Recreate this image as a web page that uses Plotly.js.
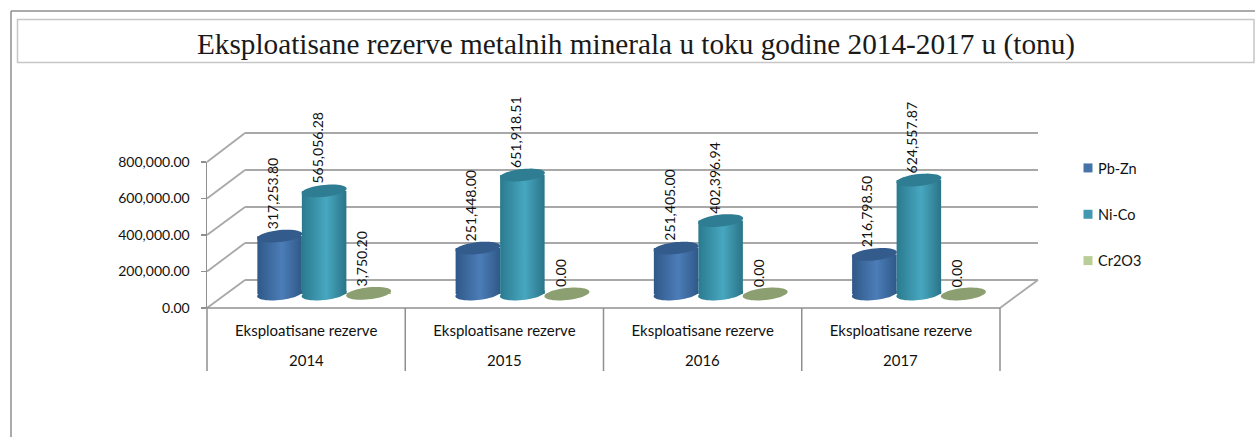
<!DOCTYPE html>
<html><head><meta charset="utf-8">
<script src="https://cdn.plot.ly/plotly-3.0.1.min.js"></script>
<style>html,body{margin:0;padding:0;background:#fff;overflow:hidden}</style>
</head><body><div id="chart" style="width:1255px;height:437px"></div>
<script>
const years = [2014, 2015, 2016, 2017];
const categoryLabel = 'Eksploatisane rezerve';
const pbZn = [317253.80, 251448.00, 251405.00, 216798.50];
const niCo = [565056.28, 651918.51, 402396.94, 624557.87];
const cr2o3 = [3750.20, 0, 0, 0];
const seriesNames = ['Pb-Zn', 'Ni-Co', 'Cr2O3'];
const seriesValues = [pbZn, niCo, cr2o3];
const legendColors = ['#4674a9', '#4198af', '#b9cd96'];
const capColors = ['#335c8c', '#2f7d92', '#8c9f70'];
const sideStops = [
  ['#2f5888', '#4c7db8', '#2f5888'],
  ['#2a7a8e', '#47a7c0', '#2a7488'],
  ['#8c9f70', '#8c9f70', '#8c9f70']
];
const yTicks = [0, 200000, 400000, 600000, 800000];

const W = 1255, H = 437;
const px = v => v / W, py = v => 1 - v / H;
const AX_L = 207, AX_R = 1018, FLOOR = 308, Y_TOP = 162, CAT_W = 198.25, SHIFT = 18;
const DX = 38;
const unitX = 1 / CAT_W;                    // years per pixel
const unitY = 800000 / (FLOOR - Y_TOP);     // value per pixel
const baseOffset = 14 * unitY;
const BAR_FRAC = 0.2245;
const BAR_A = 22.5, CAP_B = 6, TILT = 0.1;
const fmt = v => v.toLocaleString('en-US', {minimumFractionDigits: 2, maximumFractionDigits: 2});

const traces = seriesNames.map((n, s) => ({
  type: 'bar', name: n, x: years, y: seriesValues[s], base: baseOffset,
  marker: {color: legendColors[s], line: {width: 0}},
  legendgroup: n, hoverinfo: 'skip'
}));

function ellipsePath(xc, yc) {
  let d = '';
  for (let i = 0; i <= 48; i++) {
    const t = i / 48 * 2 * Math.PI;
    const dx = BAR_A * Math.cos(t);
    const dy = CAP_B * Math.sin(t) + TILT * BAR_A * Math.cos(t);
    d += (i ? 'L' : 'M') + (xc + dx * unitX) + ',' + (yc + dy * unitY);
  }
  return d + 'Z';
}

const gridColor = '#a8a8a8';
const shapes = [];
const pline = (x0, y0, x1, y1, color, width) => shapes.push({
  type: 'line', xref: 'paper', yref: 'paper', layer: 'below',
  x0: px(x0), y0: py(y0), x1: px(x1), y1: py(y1), line: {color, width}
});
pline(11, 11, 1255, 11, '#8f8f8f', 1.5);
pline(11, 11, 11, 437, '#8f8f8f', 1.5);
shapes.push({type: 'rect', xref: 'paper', yref: 'paper', layer: 'below',
  x0: px(17.5), y0: py(19.5), x1: px(1254), y1: py(62.5), line: {color: '#c6c6c6', width: 1.5}});
const backY = [280, 243, 207, 170, 133];
yTicks.forEach((v, i) => {
  const fy = FLOOR - v / unitY;
  pline(AX_L, fy, AX_L + DX, backY[i], gridColor, 1.8);
  pline(AX_L + DX, backY[i], AX_L + DX + 793, backY[i], gridColor, 1.8);
});
pline(1000, FLOOR, 1038, 280, gridColor, 1.8);
pline(AX_L, FLOOR, 1000, FLOOR, '#8f8f8f', 1.5);
[0, 1, 2, 3, 4].forEach(i => pline(AX_L + i * CAT_W, FLOOR, AX_L + i * CAT_W, 371, '#8f8f8f', 1.5));

const bottomIdx = [];
seriesValues.forEach((vals, s) => vals.forEach((v, c) => {
  const xc = years[c] + (s - 1) * BAR_FRAC;
  if (s < 2) {
    bottomIdx.push([shapes.length, s]);
    shapes.push({type: 'path', xref: 'x', yref: 'y', layer: 'below',
      path: ellipsePath(xc, baseOffset), fillcolor: legendColors[s], line: {width: 0}});
  }
}));
seriesValues.forEach((vals, s) => vals.forEach((v, c) => {
  const xc = years[c] + (s - 1) * BAR_FRAC;
  shapes.push({type: 'path', xref: 'x', yref: 'y', layer: 'above',
    path: ellipsePath(xc, baseOffset + v), fillcolor: capColors[s], line: {width: 0}});
}));

const annotations = [];
seriesValues.forEach((vals, s) => vals.forEach((v, c) => annotations.push({
  xref: 'x', yref: 'y', x: years[c] + (s - 1) * BAR_FRAC, y: baseOffset + v,
  text: fmt(v), showarrow: false, textangle: -90, xanchor: 'center', yanchor: 'bottom',
  xshift: -7, yshift: 5, font: {family: 'Lato', size: 14, color: '#111'}
})));
years.forEach(y => annotations.push({
  xref: 'x', yref: 'paper', x: y - SHIFT * unitX, y: py(359.5), text: String(y), showarrow: false,
  xanchor: 'center', yanchor: 'middle', font: {family: 'Lato', size: 15, color: '#111'}
}));

const layout = {
  width: W, height: H, margin: {l: 0, r: 0, t: 0, b: 0, pad: 0},
  paper_bgcolor: '#fff', plot_bgcolor: 'rgba(0,0,0,0)', showlegend: true,
  title: {text: 'Eksploatisane rezerve metalnih minerala u toku godine 2014-2017 u (tonu)',
    x: 636 / W, xanchor: 'center', y: py(44), yanchor: 'middle',
    font: {family: 'Liberation Serif', size: 29.25, color: '#1a1a1a'}},
  barmode: 'group', bargap: 1 - 3 * BAR_FRAC, bargroupgap: 0,
  xaxis: {
    domain: [px(AX_L), px(AX_R)], type: 'linear',
    range: [2013.5 - SHIFT * unitX, 2017.5], showgrid: false, zeroline: false, showline: false,
    tickmode: 'array', tickvals: years.map(y => y - SHIFT * unitX),
    ticktext: years.map(() => categoryLabel), ticks: '', ticklabelstandoff: 12,
    tickfont: {family: 'Lato', size: 15, color: '#111'}
  },
  yaxis: {
    domain: [py(FLOOR), py(Y_TOP)], range: [0, 800000], showgrid: false, zeroline: false,
    showline: true, linecolor: '#8f8f8f', linewidth: 1.5,
    tickmode: 'array', tickvals: yTicks, ticktext: yTicks.map(fmt), ticks: 'outside', ticklen: 5,
    tickcolor: '#8f8f8f', tickwidth: 1.5, ticklabelstandoff: 8,
    tickfont: {family: 'Lato', size: 14, color: '#111'}
  },
  legend: {x: px(1058), y: py(152), xanchor: 'left', yanchor: 'top', tracegroupgap: 24.5,
    bgcolor: 'rgba(0,0,0,0)', font: {family: 'Lato', size: 14.5, color: '#111'}, traceorder: 'grouped'},
  shapes, annotations
};

Plotly.newPlot('chart', traces, layout, {displayModeBar: false, staticPlot: true}).then(gd => {
  const svg = gd.querySelector('svg.main-svg');
  const NS = 'http://www.w3.org/2000/svg';
  const defs = svg.querySelector('defs');
  sideStops.forEach((st, i) => {
    const g = document.createElementNS(NS, 'linearGradient');
    g.setAttribute('id', 'cyl' + i);
    [[0, st[0]], [.55, st[1]], [1, st[2]]].forEach(([o, c]) => {
      const e = document.createElementNS(NS, 'stop');
      e.setAttribute('offset', o); e.setAttribute('stop-color', c); g.appendChild(e);
    });
    defs.appendChild(g);
  });
  gd.querySelectorAll('.barlayer .trace').forEach((t, i) => {
    t.querySelectorAll('path').forEach(p => { p.style.fill = 'url(#cyl' + i + ')'; });
  });
  bottomIdx.forEach(([idx, s]) => {
    gd.querySelectorAll('.shapelayer path[data-index="' + idx + '"]').forEach(p => {
      p.style.fill = 'url(#cyl' + s + ')'; p.style.fillOpacity = 1;
    });
  });
  gd.querySelectorAll('.legend .legendpoints path').forEach(p => {
    p.setAttribute('transform', 'translate(30,0) scale(0.75)');
  });
});
</script></body></html>
